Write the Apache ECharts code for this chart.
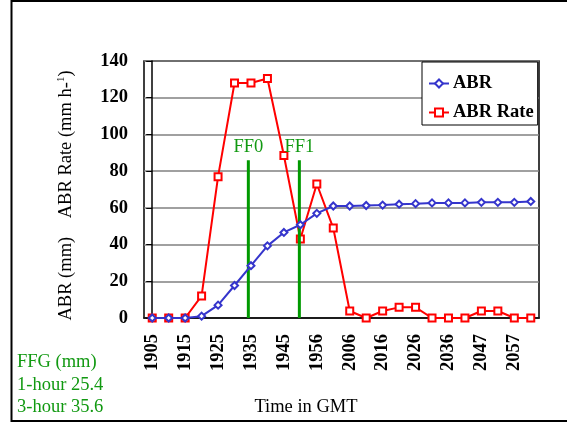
<!DOCTYPE html>
<html>
<head>
<meta charset="utf-8">
<script src="https://cdn.jsdelivr.net/npm/echarts@6/dist/echarts.min.js"></script>
<style>html,body{margin:0;padding:0;background:#fff;}#c{width:567px;height:423px;}</style>
</head>
<body>
<div id="c"></div>
<script>
var categories = ['1905','1910','1915','1920','1925','1930','1935','1940','1945','1950','1956','2001','2006','2011','2016','2021','2026','2031','2036','2041','2047','2052','2057','2102'];
var abr = [0,0,0,1,7,17.7,28.5,39.3,46.6,50.8,57,61,61,61.3,61.5,62,62.3,62.7,62.7,62.7,63,63,63,63.5];
var abrRate = [0,0,0,12,77,128,128,130.5,88.5,43,73,49,3.8,0,3.8,5.8,5.8,0,0,0,3.8,3.8,0,0];
var yTicks = [0,20,40,60,80,100,120,140];
var ff0Pos = 5.84, ff1Pos = 8.94, ffTop = 86;
var ffgLines = ['FFG (mm)','1-hour 25.4','3-hour 35.6'];

var serif = '"Liberation Serif", "DejaVu Serif", serif';
var fs = 18.5;
var green = '#119911';
var chart = echarts.init(document.getElementById('c'));

function ffSeries(name, pos) {
  return {
    name: name, type: 'line', xAxisIndex: 1, yAxisIndex: 0,
    data: [[pos, 0], {value: [pos, ffTop], label: {show: true, formatter: name, position: 'top', distance: 3,
      color: green, fontFamily: serif, fontSize: fs}}],
    symbol: 'circle', symbolSize: 0.1, showSymbol: true,
    lineStyle: {color: '#009900', width: 3}, itemStyle: {color: '#009900'},
    silent: true, z: 3, animation: false, legendHoverLink: false
  };
}

chart.setOption({
  animation: false,
  grid: {left: 144, right: 28, top: 61, bottom: 105, show: true, borderColor: '#000', borderWidth: 1.5, backgroundColor: '#fff'},
  legend: {
    data: ['ABR', 'ABR Rate'], orient: 'vertical', left: 422, top: 62,
    backgroundColor: '#fff', borderColor: '#000', borderWidth: 1,
    padding: [12, 4, 3, 6], itemGap: 10, itemWidth: 20, itemHeight: 10,
    textStyle: {fontFamily: serif, fontWeight: 'bold', fontSize: fs, color: '#000', padding: [0,0,0,-1]}
  },
  xAxis: [{
    type: 'category', data: categories, boundaryGap: true,
    axisLine: {lineStyle: {color: '#000', width: 1.5}},
    axisTick: {interval: 0, length: 5, lineStyle: {color: '#000'}},
    axisLabel: {interval: 1, rotate: 90, margin: 16, fontFamily: serif, fontWeight: 'bold', fontSize: fs, color: '#000'},
    splitLine: {show: false}
  }, {
    type: 'value', min: -0.5, max: 23.5, show: false
  }],
  yAxis: [{
    type: 'value', min: 0, max: 140, interval: 20,
    name: '{n|ABR (mm)    ABR Rate (mm h-}{s|1}{n|)}', nameLocation: 'middle', nameGap: 68, nameRotate: 90,
    nameTextStyle: {padding: [0, 12, 0, 0], rich: {n: {fontFamily: serif, fontSize: fs, color: '#000'}, s: {fontFamily: serif, fontSize: 11, color: '#000', verticalAlign: 'bottom', padding: [0,0,9,0]}}},
    axisLine: {show: true, lineStyle: {color: '#000', width: 1.5}},
    axisTick: {show: true, length: 6, lineStyle: {color: '#000'}},
    axisLabel: {margin: 16, fontFamily: serif, fontWeight: 'bold', fontSize: fs, color: '#000'},
    splitLine: {lineStyle: {color: '#808080', width: 1.5}}
  }],
  series: [
    {
      name: 'ABR Rate', type: 'line', data: abrRate, symbol: 'emptyRect', symbolSize: 7,
      lineStyle: {color: '#ff0000', width: 2}, itemStyle: {color: '#ff0000', borderWidth: 1.2}, z: 2
    },
    {
      name: 'ABR', type: 'line', data: abr, symbol: 'emptyDiamond', symbolSize: 7,
      lineStyle: {color: '#3535cc', width: 2}, itemStyle: {color: '#3535cc', borderWidth: 1.2}, z: 4
    },
    ffSeries('FF0', ff0Pos),
    ffSeries('FF1', ff1Pos)
  ],
  graphic: [
    {type: 'rect', shape: {x: 11.5, y: 1, width: 700, height: 420}, style: {fill: 'none', stroke: '#000', lineWidth: 2}, z: 100, silent: true},
    {type: 'text', x: 306, y: 407, style: {text: 'Time in GMT', font: fs + 'px ' + serif, fill: '#000', align: 'center', verticalAlign: 'middle'}},
    {type: 'text', left: 17, top: 351, style: {text: ffgLines.join('\n'), font: fs + 'px ' + serif, fill: green, lineHeight: 22.5}}
  ]
});
</script>
</body>
</html>
